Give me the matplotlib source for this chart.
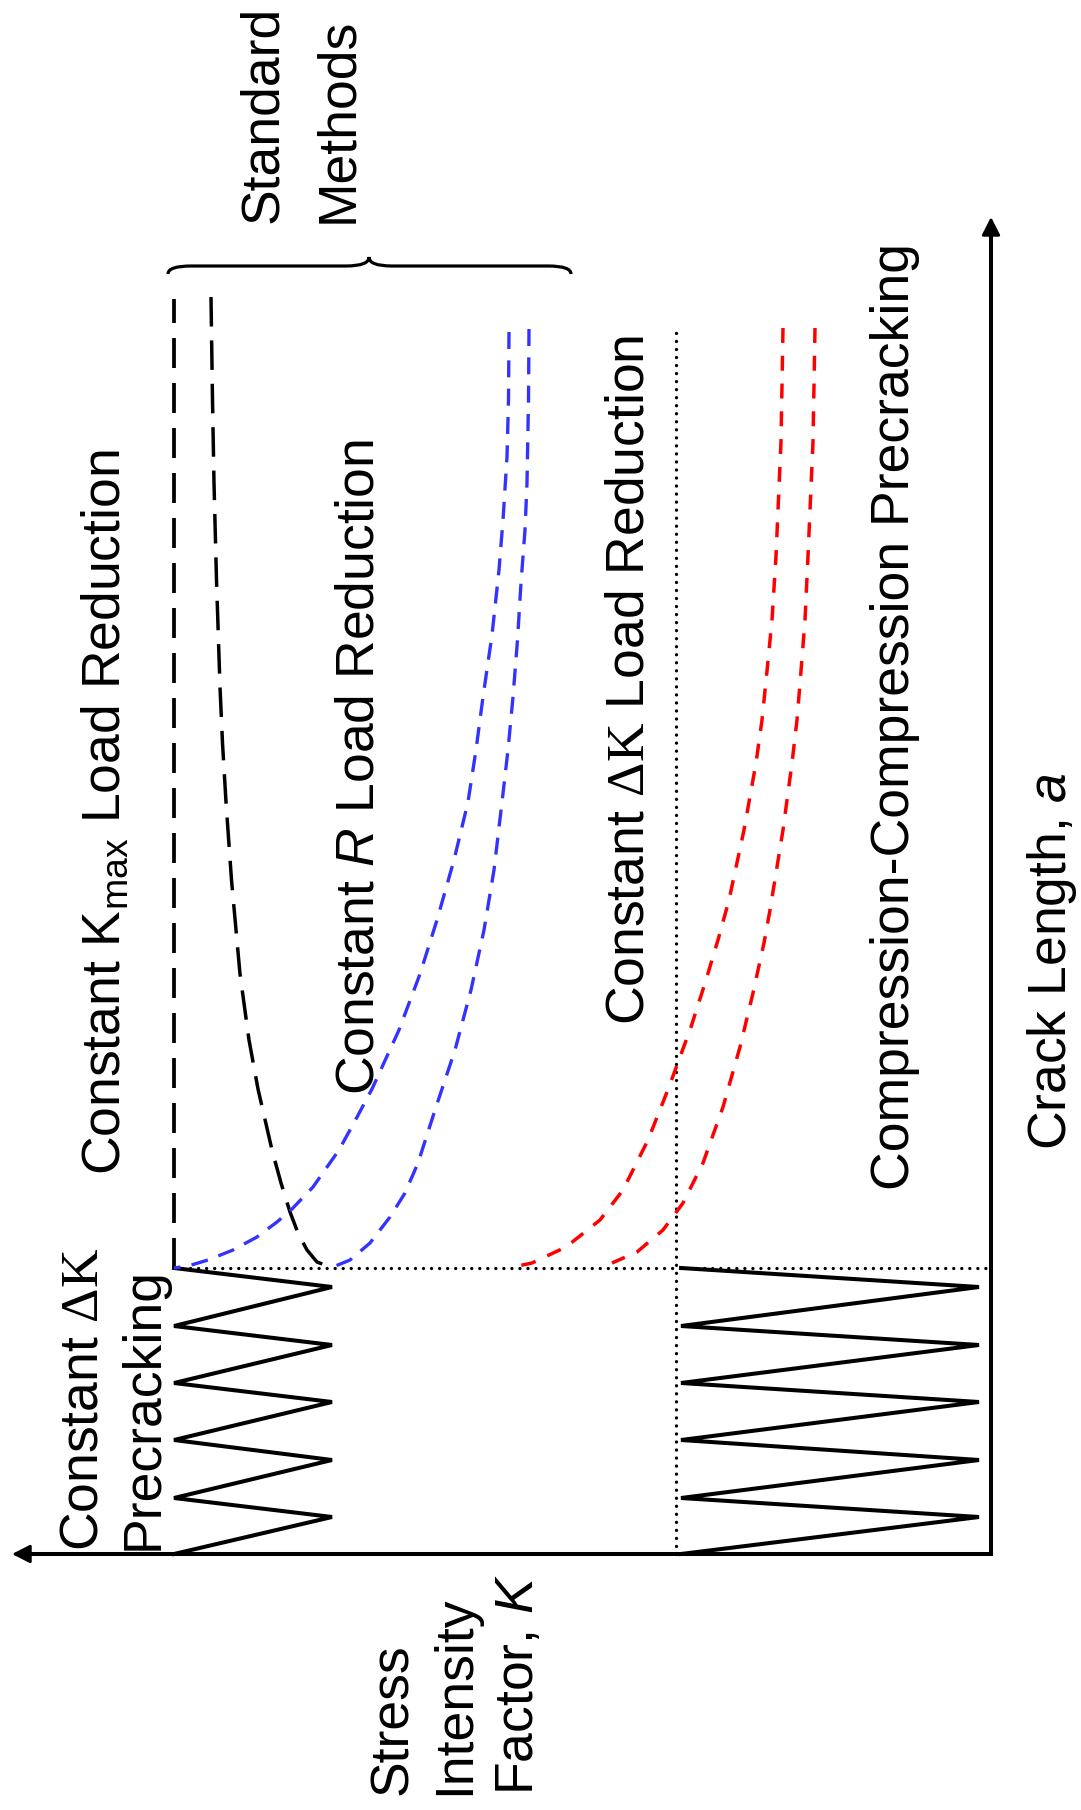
import matplotlib
matplotlib.use("Agg")
import matplotlib.pyplot as plt
from matplotlib.path import Path
from matplotlib.patches import PathPatch

plt.rcParams['font.family'] = ['Liberation Sans', 'DejaVu Sans']
plt.rcParams['mathtext.fontset'] = 'custom'
plt.rcParams['mathtext.rm'] = 'Liberation Serif'
plt.rcParams['mathtext.sf'] = 'Liberation Sans'
plt.rcParams['mathtext.it'] = 'Liberation Sans:italic'

# schematic units: K counted leftward from the origin, crack length a counted upward
ORIGIN_X, ORIGIN_Y = 991, 1554   # page position of the origin (px)

k_axis_end = 979
a_axis_end = 1337

a_precrack = 286
zig_a = [0, 37, 56, 94, 114, 152, 171, 209, 228, 267, 286]
dk_kmax, dk_kmin = 817, 659        # constant dK precracking
cc_kmax, cc_kmin = 310, 12         # compression-compression precracking

kmax_const = 817
kmax_top = 1255
dk_line_k = 315
dk_line_top = 1225

# constant Kmax: Kmin branch (black)
kmin_k = [780, 778.5, 777, 774.5, 771, 768.5, 765, 759.5, 751, 742, 733, 719, 710, 701, 693, 684, 674, 661]
kmin_a = [1257, 1154, 1071, 974, 867, 811, 752, 674, 580, 514, 465, 404, 371, 342, 321, 304, 292, 287]

# constant R (blue)
r_kmax_k = [482, 482.5, 484, 488, 492, 499, 508, 515, 523, 537, 554, 571, 592, 619, 635, 652, 678,
            699, 714, 734, 758, 783, 803, 817]
r_kmax_a = [1222, 1154, 1097, 1034, 984, 919, 857, 804, 752, 694, 634, 580, 524, 465, 435, 404, 367,
            345, 332, 317, 304, 294, 288, 286]
r_kmin_k = [462, 462.5, 464, 466, 470, 473.5, 478, 483, 489, 497, 507, 520, 536, 555, 573, 586, 601,
            621, 641, 658]
r_kmin_a = [1225, 1154, 1071, 1024, 971, 914, 857, 804, 752, 684, 624, 564, 504, 447, 391, 361, 337,
            311, 294, 287]

# constant dK after compression precracking (red)
cc_hi_k = [208, 210, 215, 219, 224, 229, 235, 247, 262, 273, 285, 300, 322, 343, 368, 391, 425, 459, 478]
cc_hi_a = [1226, 1112, 998, 934, 883, 834, 791, 724, 654, 614, 574, 527, 467, 414, 364, 334, 307, 291, 287]
cc_lo_k = [176, 178, 183, 186, 190, 194, 199, 208, 221, 227, 238, 251, 268, 288, 308, 328, 354, 379]
cc_lo_a = [1226, 1112, 998, 934, 883, 834, 791, 724, 644, 611, 561, 507, 447, 391, 351, 324, 302, 291]


def px(x, y):
    # page pixel -> schematic units
    return ORIGIN_X - x, ORIGIN_Y - y


fig = plt.figure(figsize=(10.81, 18.10), dpi=100)
ax = fig.add_axes([0, 0, 1, 1])
ax.set_xlim(ORIGIN_X, ORIGIN_X - 1081)
ax.set_ylim(ORIGIN_Y - 1810, ORIGIN_Y)
ax.axis('off')

# axes
ax.plot([k_axis_end - 10, 0, 0], [0, 0, a_axis_end - 10], color='k', lw=2.9,
        solid_joinstyle='miter', solid_capstyle='butt')
head = dict(arrowstyle='-|>,head_length=0.55,head_width=0.28', color='k', lw=2.0,
            mutation_scale=20, shrinkA=0, shrinkB=0)
ax.annotate('', xy=(k_axis_end, 0), xytext=(k_axis_end - 20, 0), arrowprops=head)
ax.annotate('', xy=(0, a_axis_end), xytext=(0, a_axis_end - 20), arrowprops=head)

# precracking zigzags
dk_zig = [dk_kmax if i % 2 == 0 else dk_kmin for i in range(len(zig_a))]
cc_zig = [cc_kmax if i % 2 == 0 else cc_kmin for i in range(len(zig_a))]
ax.plot(dk_zig, zig_a, color='k', lw=2.9, solid_joinstyle='miter')
ax.plot(cc_zig, zig_a, color='k', lw=2.9, solid_joinstyle='miter')

# dotted guides
dot = dict(color='k', lw=2.4, dashes=(0.01, 2.4), dash_capstyle='round')
ax.plot([kmax_const, 0], [a_precrack, a_precrack], **dot)
ax.plot([dk_line_k, dk_line_k], [0, dk_line_top], **dot)

# constant Kmax
ax.plot([kmax_const, kmax_const], [a_precrack, kmax_top], color='k', lw=2.7, dashes=(8, 4))
ax.plot(kmin_k, kmin_a, color='k', lw=2.5, dashes=(8.5, 4))

# constant R
ax.plot(r_kmax_k, r_kmax_a, color='#3333ff', lw=2.4, dashes=(5.1, 3.4))
ax.plot(r_kmin_k, r_kmin_a, color='#3333ff', lw=2.4, dashes=(5.1, 3.4))

# compression-compression then constant dK
ax.plot(cc_hi_k, cc_hi_a, color='#ff0000', lw=2.5, dashes=(4.3, 3.7))
ax.plot(cc_lo_k, cc_lo_a, color='#ff0000', lw=2.5, dashes=(4.3, 3.7))

# brace over the standard methods
bl, br, btip, bline, bend, btop = 823, 420, 622, 1288, 1280, 1297
verts = [(bl, bend), (bl, bline), (bl - 23, bline), (btip + 23, bline),
         (btip, bline), (btip, btop), (btip, bline), (btip - 23, bline),
         (br + 23, bline), (br, bline), (br, bend)]
codes = [Path.MOVETO, Path.CURVE3, Path.CURVE3, Path.LINETO,
         Path.CURVE3, Path.CURVE3, Path.CURVE3, Path.CURVE3,
         Path.LINETO, Path.CURVE3, Path.CURVE3]
ax.add_patch(PathPatch(Path(verts, codes), fill=False, lw=2.3, color='k'))

labels = [
    ("Standard", 277, 223),
    ("Methods", 352, 223),
    (r"Constant K$_{\mathsf{max}}$ Load Reduction", 120, 1175),
    (r"Constant $\mathit{R}$ Load Reduction", 373, 1095),
    (r"Constant $\mathrm{\Delta K}$ Load Reduction", 643, 1025),
    ("Compression-Compression Precracking", 909, 1190),
    (r"Crack Length, $\mathit{a}$", 1066, 1150),
    (r"Constant $\mathrm{\Delta K}$", 97, 1551),
    ("Precracking", 158, 1550),
    ("Stress", 407, 1795),
    ("Intensity", 469, 1795),
    (r"Factor, $\mathit{K}$", 533, 1795),
]
for txt, x, y in labels:
    k, a = px(x, y)
    ax.text(k, a, txt, rotation=90, rotation_mode='anchor', ha='left',
            va='baseline', fontsize=38.5, color='k')

fig.savefig("out.png", dpi=100)
